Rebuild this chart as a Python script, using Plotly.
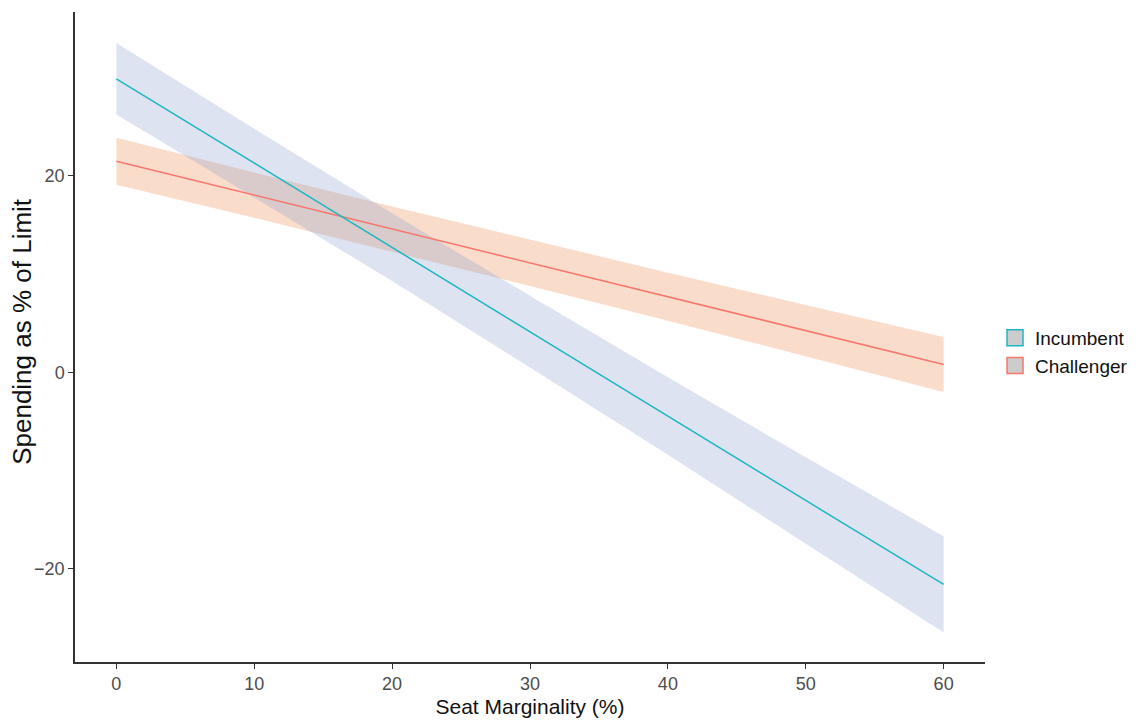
import plotly.graph_objects as go

# Data
x_vals = [0, 10, 20, 30, 40, 50, 60]

incumbent_fit = [29.9, 21.3, 12.75, 4.15, -4.45, -13.05, -21.6]
incumbent_upper = [33.55, 24.8, 16.2, 7.8, -0.5, -8.65, -16.7]
incumbent_lower = [26.25, 17.8, 9.3, 0.5, -8.4, -17.45, -26.5]

challenger_fit = [21.5, 18.05, 14.6, 11.15, 7.7, 4.25, 0.8]
challenger_upper = [23.9, 20.35, 16.9, 13.5, 10.15, 6.85, 3.6]
challenger_lower = [19.1, 15.75, 12.3, 8.8, 5.25, 1.65, -2.0]

series_names = ["Incumbent", "Challenger"]
x_ticks = [0, 10, 20, 30, 40, 50, 60]
y_ticks = [-20, 0, 20]

inc_line = "#1DB7C2"
chal_line = "#F8766D"
inc_fill = "rgba(142,162,205,0.3)"
chal_fill = "rgba(238,138,82,0.3)"

fig = go.Figure()

def ribbon(upper, lower, fill):
    return go.Scatter(
        x=x_vals + x_vals[::-1],
        y=upper + lower[::-1],
        fill="toself", fillcolor=fill, line=dict(width=0),
        mode="lines", hoverinfo="skip", showlegend=False,
    )

fig.add_trace(ribbon(challenger_upper, challenger_lower, chal_fill))
fig.add_trace(ribbon(incumbent_upper, incumbent_lower, inc_fill))

fig.add_trace(go.Scatter(x=x_vals, y=challenger_fit, mode="lines",
                         line=dict(color=chal_line, width=1.5), showlegend=False))
fig.add_trace(go.Scatter(x=x_vals, y=incumbent_fit, mode="lines",
                         line=dict(color=inc_line, width=1.5), showlegend=False))

# legend entries: grey boxes with coloured outlines
for name, col in zip(series_names, [inc_line, chal_line]):
    fig.add_trace(go.Scatter(x=[None], y=[None], name=name, mode="markers",
                             marker=dict(symbol="square", size=22, color="#CCCCCC",
                                         line=dict(color=col, width=1.5))))

axis_common = dict(
    showgrid=False, zeroline=False, showline=True, linecolor="#333333",
    linewidth=1.5, ticks="outside", ticklen=5, tickcolor="#333333",
    automargin=False,
    tickfont=dict(family="Liberation Sans, Arial", size=18, color="#4D4D4D"),
)

fig.update_layout(
    width=1141, height=725,
    margin=dict(l=75, r=156, t=12, b=63, autoexpand=False),
    plot_bgcolor="white", paper_bgcolor="white",
    xaxis=dict(range=[-3, 63], tickvals=x_ticks,
               title=dict(text="Seat Marginality (%)", standoff=6,
                          font=dict(family="Liberation Sans, Arial", size=21, color="#111111")),
               **axis_common),
    yaxis=dict(range=[-29.5, 36.7], tickvals=y_ticks, **axis_common),
    legend=dict(x=1.011, y=0.477, xanchor="left", yanchor="middle",
                font=dict(family="Liberation Sans, Arial", size=19, color="#111111"),
                tracegroupgap=0, itemsizing="trace"),
    showlegend=True,
)

fig.add_annotation(text="Spending as % of Limit", xref="paper", yref="paper",
                   x=-0.0582, y=0.508, xanchor="center", yanchor="middle",
                   textangle=-90, showarrow=False,
                   font=dict(family="Liberation Sans, Arial", size=26, color="#111111"))

fig.write_html("out.html")
